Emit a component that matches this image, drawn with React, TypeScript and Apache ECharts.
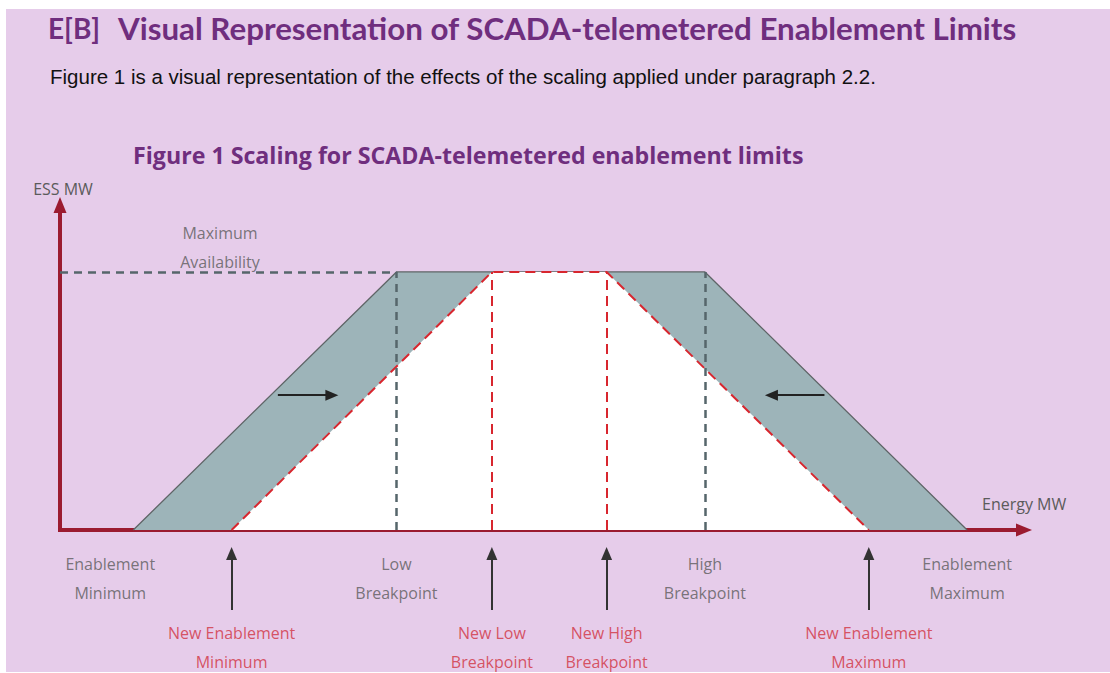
import React, { useEffect, useRef } from "react";
import * as echarts from "echarts";

// ---- data ----
const limitNames = ["Enablement\nMinimum", "Low\nBreakpoint", "High\nBreakpoint", "Enablement\nMaximum"];
const newLimitNames = ["New Enablement\nMinimum", "New Low\nBreakpoint", "New High\nBreakpoint", "New Enablement\nMaximum"];
// Energy MW positions (0..100 along the energy axis)
const originalLimits = [7.6, 34.9, 66.9, 94.1];
const newLimits = [17.8, 44.8, 56.7, 83.9];
// ESS MW (0..100 along the ESS axis)
const maxAvailability = 79.4;
// scaling direction arrows inside the band: [from, to]
const shiftArrows = [
  [22.6, 28.2],
  [79.3, 73.8],
];
const shiftArrowLevel = 41.5;
const maxAvailLabelPos = [16.6, 86.9];

const PURPLE = "#6F2E7E";
const AXIS_RED = "#9B1B30";
const DASH_RED = "#D8262E";
const DASH_GREY = "#56666B";
const BAND = "#9DB4B9";
const GREY_TEXT = "#5B5B5B";
const RED_TEXT = "#D1323F";
const LABEL_FONT = "'Open Sans', 'Noto Sans', sans-serif";

export default function App() {
  const ref = useRef<HTMLDivElement>(null);

  useEffect(() => {
    if (!ref.current) return;
    const chart = echarts.init(ref.current, undefined, { renderer: "svg" });

    const trap = (l: number[]) => [
      [l[0], 0],
      [l[1], maxAvailability],
      [l[2], maxAvailability],
      [l[3], 0],
    ];

    const labelBase = {
      show: true,
      position: "inside",
      formatter: "{b}",
      fontFamily: LABEL_FONT,
      fontSize: 16,
      lineHeight: 29,
      align: "center",
      verticalAlign: "middle",
    };

    const option: any = {
      animation: false,
      backgroundColor: "transparent",
      title: [
        {
          text: "E[B]",
          left: 48,
          top: 14,
          padding: 0,
          textStyle: { fontFamily: "Lato, sans-serif", fontWeight: "bold", fontSize: 28, color: PURPLE },
        },
        {
          text: "Visual Representation of SCADA-telemetered Enablement Limits",
          left: 118,
          top: 12,
          padding: 0,
          textStyle: { fontFamily: "Lato, sans-serif", fontWeight: "bold", fontSize: 31.3, color: PURPLE },
        },
        {
          text: "Figure 1 is a visual representation of the effects of the scaling applied under paragraph 2.2.",
          left: 50,
          top: 66,
          padding: 0,
          textStyle: { fontFamily: "'Liberation Sans', Arial, sans-serif", fontWeight: "normal", fontSize: 20.5, color: "#111111" },
        },
        {
          text: "Figure 1 Scaling for SCADA-telemetered enablement limits",
          left: 133,
          top: 143,
          padding: 0,
          textStyle: { fontFamily: LABEL_FONT, fontWeight: "bold", fontSize: 23.2, color: PURPLE },
        },
      ],
      grid: [
        { left: 60, top: 205, width: 964, height: 325 },
        { left: 60, top: 530, width: 964, height: 143 },
      ],
      xAxis: [
        {
          type: "value",
          gridIndex: 0,
          min: 0,
          max: 100,
          name: "Energy MW",
          nameLocation: "end",
          nameGap: -42,
          nameTextStyle: {
            fontFamily: LABEL_FONT,
            fontSize: 16,
            color: GREY_TEXT,
            align: "left",
            verticalAlign: "bottom",
            padding: [0, 0, 18, 0],
          },
          axisLine: {
            show: true,
            onZero: false,
            symbol: ["none", "triangle"],
            symbolSize: [13, 16],
            lineStyle: { color: AXIS_RED, width: 4 },
          },
          axisTick: { show: false },
          axisLabel: { show: false },
          splitLine: { show: false },
        },
        { type: "value", gridIndex: 1, min: 0, max: 100, show: false },
      ],
      yAxis: [
        {
          type: "value",
          gridIndex: 0,
          min: 0,
          max: 100,
          name: "ESS MW",
          nameLocation: "end",
          nameGap: 8,
          nameTextStyle: { fontFamily: LABEL_FONT, fontSize: 16, color: GREY_TEXT, padding: [0, 0, 0, 6] },
          axisLine: {
            show: true,
            onZero: false,
            symbol: ["none", "triangle"],
            symbolSize: [13, 16],
            lineStyle: { color: AXIS_RED, width: 4, cap: "square" },
          },
          axisTick: { show: false },
          axisLabel: { show: false },
          splitLine: { show: false },
        },
        { type: "value", gridIndex: 1, min: 0, max: 143, inverse: true, show: false },
      ],
      series: [
        {
          name: "Original limits",
          type: "line",
          xAxisIndex: 0,
          yAxisIndex: 0,
          data: trap(originalLimits),
          symbol: "none",
          lineStyle: { color: "#5E6466", width: 1.3 },
          areaStyle: { color: BAND, opacity: 1 },
          z: 2,
          markLine: {
            silent: true,
            symbol: ["none", "none"],
            label: { show: false },
            lineStyle: { color: DASH_GREY, type: [8, 6], width: 2.5 },
            z: 4,
            data: [
              [{ coord: [0, maxAvailability] }, { coord: [originalLimits[1], maxAvailability] }],
              [{ coord: [originalLimits[1], 0] }, { coord: [originalLimits[1], maxAvailability] }],
              [{ coord: [originalLimits[2], 0] }, { coord: [originalLimits[2], maxAvailability] }],
            ],
          },
        },
        {
          name: "Scaled limits",
          type: "line",
          xAxisIndex: 0,
          yAxisIndex: 0,
          data: trap(newLimits),
          symbol: "none",
          lineStyle: { color: DASH_RED, width: 2, type: [10, 6] },
          areaStyle: { color: "#FFFFFF", opacity: 1 },
          z: 3,
          markLine: {
            silent: true,
            symbol: ["none", "none"],
            label: { show: false },
            lineStyle: { color: DASH_RED, type: [10, 6], width: 2 },
            z: 4,
            data: [
              [{ coord: [newLimits[1], 0] }, { coord: [newLimits[1], maxAvailability] }],
              [{ coord: [newLimits[2], 0] }, { coord: [newLimits[2], maxAvailability] }],
            ],
          },
        },
        {
          name: "Shift arrows",
          type: "line",
          xAxisIndex: 0,
          yAxisIndex: 0,
          data: [],
          symbol: "none",
          markLine: {
            silent: true,
            symbol: ["none", "triangle"],
            symbolSize: [11, 13],
            label: { show: false },
            lineStyle: { color: "#222222", type: "solid", width: 2 },
            z: 5,
            data: shiftArrows.map((a) => [
              { coord: [a[0], shiftArrowLevel] },
              { coord: [a[1], shiftArrowLevel] },
            ]),
          },
        },
        {
          name: "Max availability label",
          type: "scatter",
          xAxisIndex: 0,
          yAxisIndex: 0,
          symbolSize: 1,
          itemStyle: { color: "rgba(0,0,0,0)" },
          silent: true,
          z: 6,
          data: [{ name: "Maximum\nAvailability", value: maxAvailLabelPos }],
          label: { ...labelBase, color: GREY_TEXT },
        },
        {
          name: "New limit pointers",
          type: "line",
          xAxisIndex: 1,
          yAxisIndex: 1,
          data: [],
          symbol: "none",
          markLine: {
            silent: true,
            symbol: ["none", "triangle"],
            symbolSize: [11, 13],
            label: { show: false },
            lineStyle: { color: "#333333", type: "solid", width: 2 },
            data: newLimits.map((v) => [{ coord: [v, 80] }, { coord: [v, 23.5] }]),
          },
        },
        {
          name: "Limit labels",
          type: "scatter",
          xAxisIndex: 1,
          yAxisIndex: 1,
          symbolSize: 1,
          itemStyle: { color: "rgba(0,0,0,0)" },
          silent: true,
          data: limitNames.map((n, i) => ({
            name: n,
            value: [originalLimits[i], 48],
            label: i === 0 ? { offset: [-23, 0] } : undefined,
          })),
          label: { ...labelBase, color: GREY_TEXT },
        },
        {
          name: "New limit labels",
          type: "scatter",
          xAxisIndex: 1,
          yAxisIndex: 1,
          symbolSize: 1,
          itemStyle: { color: "rgba(0,0,0,0)" },
          silent: true,
          data: newLimitNames.map((n, i) => ({
            name: n,
            value: [newLimits[i], 117.5],
          })),
          label: { ...labelBase, color: RED_TEXT },
        },
      ],
    };

    chart.setOption(option);
    return () => chart.dispose();
  }, []);

  return (
    <div style={{ position: "absolute", left: 0, top: 0, width: 1110, height: 673, background: "#FFFFFF", overflow: "hidden" }}>
      <div style={{ position: "absolute", left: 6, top: 9, width: 1104, height: 663, background: "#E6CCEA" }} />
      <div ref={ref} style={{ position: "absolute", left: 0, top: 0, width: 1110, height: 673 }} />
    </div>
  );
}
